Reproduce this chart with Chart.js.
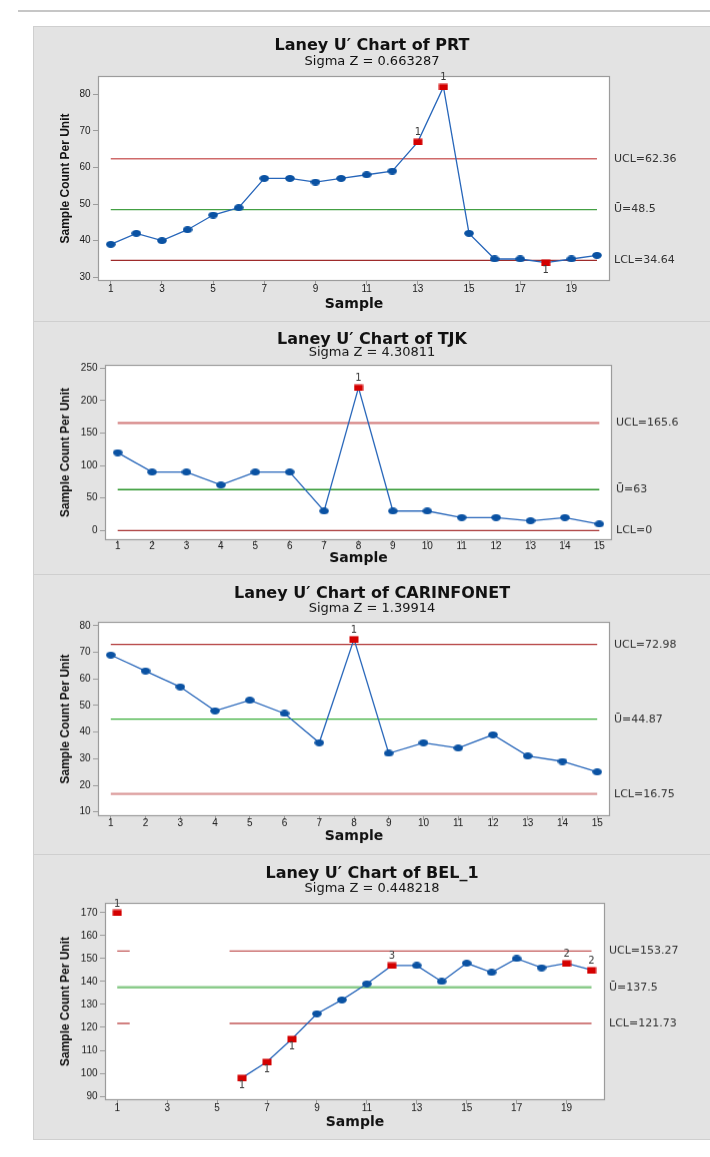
<!DOCTYPE html>
<html>
<head>
<meta charset="utf-8">
<script src="https://cdn.jsdelivr.net/npm/chart.js@4.4.1/dist/chart.umd.min.js"></script>
<style>
  body { margin: 0; background: #fff; }
  #topline { position: absolute; left: 18px; top: 10px; width: 692px; height: 2px; background: #c6c6c6; }
  #panels { position: absolute; left: 33px; top: 26px; border: 1px solid #cfcfcf; border-right: none; }
  #panels canvas { display: block; background: #e3e3e3; }
  #panels canvas + canvas { border-top: 1px solid #cfcfcf; }
</style>
</head>
<body>
<div id="topline"></div>
<div id="panels">
  <canvas id="prt"></canvas>
  <canvas id="tjk"></canvas>
  <canvas id="car"></canvas>
  <canvas id="bel"></canvas>
</div>
<script>
// PRT
const prtSamples = [1, 2, 3, 4, 5, 6, 7, 8, 9, 10, 11, 12, 13, 14, 15, 16, 17, 18, 19, 20];
const prtValues = [39, 42, 40, 43, 47, 49, 57, 57, 56, 57, 58, 59, 67, 82, 42, 35, 35, 34, 35, 36];
const prtXTicks = [1, 3, 5, 7, 9, 11, 13, 15, 17, 19];
const prtYTicks = [30, 40, 50, 60, 70, 80];
const prtLimitNames = ['UCL', 'Ū', 'LCL'];
const prtLimitValues = [62.36, 48.5, 34.64];
const prtFlagSamples = [13, 14, 18];
const prtFlagText = ['1', '1', '1'];
const prtFlagBelow = [false, false, true];

// TJK
const tjkSamples = [1, 2, 3, 4, 5, 6, 7, 8, 9, 10, 11, 12, 13, 14, 15];
const tjkValues = [120, 90, 90, 70, 90, 90, 30, 220, 30, 30, 20, 20, 15, 20, 10];
const tjkXTicks = [1, 2, 3, 4, 5, 6, 7, 8, 9, 10, 11, 12, 13, 14, 15];
const tjkYTicks = [0, 50, 100, 150, 200, 250];
const tjkLimitNames = ['UCL', 'Ū', 'LCL'];
const tjkLimitValues = [165.6, 63, 0];
const tjkFlagSamples = [8];
const tjkFlagText = ['1'];
const tjkFlagBelow = [false];

// CARINFONET
const carSamples = [1, 2, 3, 4, 5, 6, 7, 8, 9, 10, 11, 12, 13, 14, 15];
const carValues = [69, 63, 57, 48, 52, 47, 36, 75, 32, 36, 34, 39, 31, 29, 25];
const carXTicks = [1, 2, 3, 4, 5, 6, 7, 8, 9, 10, 11, 12, 13, 14, 15];
const carYTicks = [10, 20, 30, 40, 50, 60, 70, 80];
const carLimitNames = ['UCL', 'Ū', 'LCL'];
const carLimitValues = [72.98, 44.87, 16.75];
const carFlagSamples = [8];
const carFlagText = ['1'];
const carFlagBelow = [false];

// BEL_1
const belSamples = [1, 2, 3, 4, 5, 6, 7, 8, 9, 10, 11, 12, 13, 14, 15, 16, 17, 18, 19, 20];
const belValues = [170, null, null, null, null, 98, 105, 115, 126, 132, 139, 147, 147, 140, 148, 144, 150, 146, 148, 145];
const belXTicks = [1, 3, 5, 7, 9, 11, 13, 15, 17, 19];
const belYTicks = [90, 100, 110, 120, 130, 140, 150, 160, 170];
const belLimitNames = ['UCL', 'Ū', 'LCL'];
const belLimitValues = [153.27, 137.5, 121.73];
const belLimitSpans = [[[1, 1.5], [5.5, 20]], [[1, 20]], [[1, 1.5], [5.5, 20]]];
const belFlagSamples = [1, 6, 7, 8, 12, 19, 20];
const belFlagText = ['1', '1', '1', '1', '3', '2', '2'];
const belFlagBelow = [false, true, true, true, false, false, false];

function markImage(kind) {
    const c = document.createElement('canvas');
    c.width = 10; c.height = 7;
    const g = c.getContext('2d');
    if (kind === 'dot') {
        g.fillStyle = '#0a52a3';
        g.beginPath();
        g.ellipse(5, 3.5, 4.8, 3.4, 0, 0, Math.PI * 2);
        g.fill();
    } else {
        g.fillStyle = '#d40000';
        g.fillRect(0.5, 0.5, 9, 6.5);
    }
    return c;
}
const blueDot = markImage('dot');
const redMark = markImage('rect');

function limitPoints(value, spans) {
    const pts = [];
    spans.forEach((s, i) => {
        if (i > 0) pts.push({x: (spans[i - 1][1] + s[0]) / 2, y: null});
        pts.push({x: s[0], y: value}, {x: s[1], y: value});
    });
    return pts;
}

const panelPlugin = {
    id: 'panel',
    beforeDraw(chart) {
        const a = chart.chartArea, ctx = chart.ctx;
        ctx.save();
        ctx.fillStyle = '#fff';
        ctx.fillRect(a.left, a.top, a.right - a.left, a.bottom - a.top);
        ctx.restore();
    },
    beforeDatasetsDraw(chart) {
        const a = chart.chartArea, ctx = chart.ctx;
        ctx.save();
        ctx.strokeStyle = '#9c9c9c';
        ctx.lineWidth = 1.2;
        ctx.strokeRect(a.left - 0.5, a.top - 0.5, a.right - a.left + 1, a.bottom - a.top + 1);
        ctx.restore();
    }
};

const flagPlugin = {
    id: 'flags',
    afterDatasetsDraw(chart, args, opts) {
        const meta = chart.getDatasetMeta(0);
        const ctx = chart.ctx;
        ctx.save();
        ctx.font = '10px "DejaVu Sans"';
        ctx.fillStyle = '#3a3a3a';
        ctx.textAlign = 'center';
        ctx.textBaseline = 'middle';
        opts.samples.forEach((s, i) => {
            const pt = meta.data[opts.all.indexOf(s)];
            ctx.fillText(opts.text[i], pt.x, pt.y + (opts.below[i] ? 8 : -9));
        });
        ctx.restore();
    }
};

function makeChart(id, d, L) {
    const W = 676;
    const canvas = document.getElementById(id);
    canvas.width = W;
    canvas.height = L.h;

    const last = d.samples[d.samples.length - 1];
    const spans = d.spans || d.limitValues.map(() => [[d.samples[0], last]]);

    const datasets = [{
        data: d.samples.map((s, i) => ({x: s, y: d.values[i]})),
        borderColor: '#2766ba',
        borderWidth: 1.3,
        tension: 0,
        pointRadius: 4,
        pointHoverRadius: 4,
        pointStyle: c => d.flagSamples.includes(d.samples[c.dataIndex]) ? redMark : blueDot
    }];
    d.limitValues.forEach((v, i) => {
        datasets.push({
            data: limitPoints(v, spans[i]),
            borderColor: L.colors[i],
            borderWidth: L.widths[i],
            pointRadius: 0,
            tension: 0
        });
    });

    const tickFont = {family: 'Liberation Sans', size: 10, lineHeight: 1};

    new Chart(canvas, {
        type: 'line',
        data: {datasets},
        options: {
            responsive: false,
            animation: false,
            devicePixelRatio: 1,
            layout: {padding: 0},
            plugins: {
                legend: {display: false},
                tooltip: {enabled: false},
                title: {
                    display: true,
                    text: d.title,
                    color: '#111',
                    font: {family: 'DejaVu Sans', size: 16, weight: 'bold', lineHeight: 1},
                    padding: {top: L.titleY - 8, bottom: 0}
                },
                subtitle: {
                    display: true,
                    text: d.subtitle,
                    color: '#111',
                    font: {family: 'DejaVu Sans', size: 13, lineHeight: 1},
                    padding: {top: L.subY - 6.5 - (L.titleY + 8), bottom: L.top - (L.subY + 6.5)}
                },
                flags: {all: d.samples, samples: d.flagSamples, text: d.flagText, below: d.flagBelow}
            },
            scales: {
                x: {
                    type: 'linear',
                    position: 'bottom',
                    min: L.xMin,
                    max: L.xMax,
                    border: {display: false},
                    grid: {drawOnChartArea: false, tickLength: 5, color: '#9c9c9c'},
                    ticks: {font: tickFont, color: '#1a1a1a', padding: L.tickY - L.bottom - 10, autoSkip: false, maxRotation: 0},
                    afterBuildTicks: s => { s.ticks = d.xTicks.map(v => ({value: v})); },
                    afterFit: s => { s.height = L.h - L.bottom; },
                    title: {
                        display: true,
                        text: 'Sample',
                        color: '#111',
                        font: {family: 'DejaVu Sans', size: 14, weight: 'bold', lineHeight: 1},
                        padding: {top: 0, bottom: L.h - L.sampleY - 7}
                    }
                },
                y: {
                    position: 'left',
                    min: L.yMin,
                    max: L.yMax,
                    border: {display: false},
                    grid: {drawOnChartArea: false, tickLength: 6, color: '#9c9c9c'},
                    ticks: {font: tickFont, color: '#1a1a1a', padding: 2.5, autoSkip: false},
                    afterBuildTicks: s => { s.ticks = d.yTicks.map(v => ({value: v})); },
                    afterFit: s => { s.width = L.left; },
                    title: {
                        display: true,
                        text: 'Sample Count Per Unit',
                        color: '#111',
                        font: {family: 'Liberation Sans', size: 12, weight: 'bold', lineHeight: 1},
                        padding: {top: 25.6, bottom: 0}
                    }
                },
                yR: {
                    position: 'right',
                    min: L.yMin,
                    max: L.yMax,
                    border: {display: false},
                    grid: {display: false, drawTicks: false},
                    ticks: {
                        font: {family: 'DejaVu Sans', size: 11, lineHeight: 1},
                        color: '#333',
                        padding: 5,
                        autoSkip: false,
                        callback: (v, i) => d.limitNames[i] + '=' + d.limitValues[i]
                    },
                    afterBuildTicks: s => { s.ticks = d.limitValues.map(v => ({value: v})); },
                    afterFit: s => { s.width = W - L.right; }
                }
            }
        },
        plugins: [panelPlugin, flagPlugin]
    });
}

makeChart('prt', {
    title: 'Laney U′ Chart of PRT', subtitle: 'Sigma Z = 0.663287',
    samples: prtSamples, values: prtValues, xTicks: prtXTicks, yTicks: prtYTicks,
    limitNames: prtLimitNames, limitValues: prtLimitValues,
    flagSamples: prtFlagSamples, flagText: prtFlagText, flagBelow: prtFlagBelow
}, {
    h: 294, left: 65, right: 575, top: 50, bottom: 253,
    titleY: 19, subY: 35, tickY: 262.3, sampleY: 277,
    xMin: 0.54, xMax: 20.47, yMin: 29.26, yMax: 84.7,
    colors: ['#cf6a6a', '#44a044', '#9e2b2b'], widths: [1.5, 1.3, 1.2]
});

makeChart('tjk', {
    title: 'Laney U′ Chart of TJK', subtitle: 'Sigma Z = 4.30811',
    samples: tjkSamples, values: tjkValues, xTicks: tjkXTicks, yTicks: tjkYTicks,
    limitNames: tjkLimitNames, limitValues: tjkLimitValues,
    flagSamples: tjkFlagSamples, flagText: tjkFlagText, flagBelow: tjkFlagBelow
}, {
    h: 253, left: 72, right: 577, top: 44, bottom: 218,
    titleY: 18, subY: 31, tickY: 225.7, sampleY: 237.3,
    xMin: 0.66, xMax: 15.34, yMin: -13.3, yMax: 253.5,
    colors: ['#d68686', '#279427', '#a83434'], widths: [2.2, 1.3, 1.2]
});

makeChart('car', {
    title: 'Laney U′ Chart of CARINFONET', subtitle: 'Sigma Z = 1.39914',
    samples: carSamples, values: carValues, xTicks: carXTicks, yTicks: carYTicks,
    limitNames: carLimitNames, limitValues: carLimitValues,
    flagSamples: carFlagSamples, flagText: carFlagText, flagBelow: carFlagBelow
}, {
    h: 280, left: 65, right: 575, top: 48, bottom: 241,
    titleY: 19, subY: 34, tickY: 249, sampleY: 262.3,
    xMin: 0.66, xMax: 15.34, yMin: 8.76, yMax: 81.1,
    colors: ['#b03535', '#3aae3a', '#dc9c9c'], widths: [1.3, 1.3, 2.2]
});

makeChart('bel', {
    title: 'Laney U′ Chart of BEL_1', subtitle: 'Sigma Z = 0.448218',
    samples: belSamples, values: belValues, xTicks: belXTicks, yTicks: belYTicks,
    limitNames: belLimitNames, limitValues: belLimitValues, spans: belLimitSpans,
    flagSamples: belFlagSamples, flagText: belFlagText, flagBelow: belFlagBelow
}, {
    h: 285, left: 72, right: 570, top: 49, bottom: 245,
    titleY: 19, subY: 34, tickY: 254, sampleY: 268,
    xMin: 0.55, xMax: 20.5, yMin: 88.7, yMax: 173.9,
    colors: ['#c25757', '#8acb8a', '#c25757'], widths: [1.3, 2.5, 1.3]
});
</script>
</body>
</html>
